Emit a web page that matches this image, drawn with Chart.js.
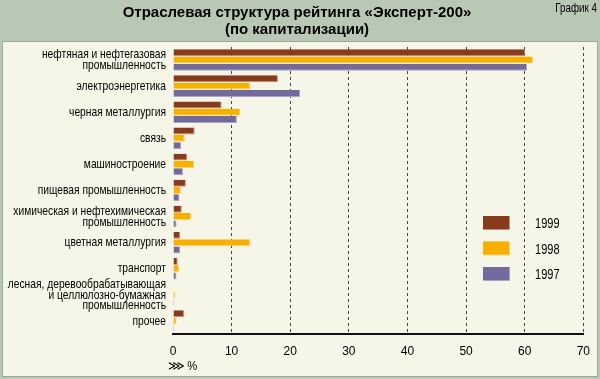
<!DOCTYPE html>
<html>
<head>
<meta charset="utf-8">
<script src="https://cdn.jsdelivr.net/npm/chart.js@4"></script>
<style>
html,body{margin:0;padding:0;background:#b8c8b4;}
#wrap{position:relative;width:600px;height:379px;}
canvas{display:block;}
</style>
</head>
<body>
<div id="wrap"><canvas id="c" width="600" height="379"></canvas></div>
<script>
const categories = [
  ["нефтяная и нефтегазовая", "промышленность"],
  "электроэнергетика",
  "черная металлургия",
  "связь",
  "машиностроение",
  "пищевая промышленность",
  ["химическая и нефтехимическая", "промышленность"],
  "цветная металлургия",
  "транспорт",
  ["лесная, деревообрабатывающая", "и целлюлозно-бумажная", "промышленность"],
  "прочее"
];
const seriesNames = ["1999", "1998", "1997"];
const values1999 = [60.1, 17.9, 8.3, 3.7, 2.4, 2.2, 1.5, 1.25, 0.8, 0.1, 1.9];
const values1998 = [61.4, 13.2, 11.5, 2.0, 3.6, 1.35, 3.1, 13.2, 1.05, 0.4, 0.6];
const values1997 = [60.4, 21.7, 10.9, 1.4, 1.7, 1.1, 0.6, 1.25, 0.6, 0.2, 0.2];
const xTicks = [0, 10, 20, 30, 40, 50, 60, 70];
const titleLines = ["Отраслевая структура рейтинга «Эксперт-200»", "(по капитализации)"];
const chartLabel = "График 4";
const unitLabel = "⋙ %";

const colors = ["#873a1c", "#f8b000", "#736a9c"];
const borders = ["#c9907a", "#fcd27a", "#aaa4c6"];
const FONT = "'Liberation Sans', Arial, sans-serif";

function condensed(ctx, text, x, y, align, sx, font) {
  ctx.save();
  ctx.translate(x, y);
  ctx.scale(sx, 1);
  ctx.font = font;
  ctx.textAlign = align;
  ctx.textBaseline = 'middle';
  ctx.fillStyle = '#000';
  ctx.fillText(text, 0, 0);
  ctx.restore();
}

const decor = {
  id: 'decor',
  beforeDraw(chart) {
    const ctx = chart.ctx;
    ctx.save();
    ctx.fillStyle = '#b8c8b4';
    ctx.fillRect(0, 0, 600, 379);
    ctx.fillStyle = '#9aab98';
    ctx.fillRect(2, 41, 596, 336);
    ctx.fillStyle = '#f5f6e7';
    ctx.fillRect(3, 42, 594, 334);
    ctx.restore();
  },
  afterDraw(chart) {
    const ctx = chart.ctx;
    const ys = chart.scales.y;
    ctx.save();
    ctx.fillStyle = '#000';
    ctx.textAlign = 'center';
    ctx.textBaseline = 'middle';
    ctx.font = "bold 15px " + FONT;
    ctx.fillText(titleLines[0], 297, 13);
    ctx.fillText(titleLines[1], 297, 30);
    ctx.restore();
    condensed(ctx, chartLabel, 597, 9, 'right', 0.82, "12px " + FONT);
    condensed(ctx, unitLabel, 168, 367, 'left', 0.9, "12.5px " + FONT);
    // category labels
    chart.data.labels.forEach((lab, i) => {
      const lines = Array.isArray(lab) ? lab : [lab];
      const y = ys.getPixelForTick(i);
      const lh = 10.8;
      const y0 = y - (lines.length - 1) * lh / 2;
      lines.forEach((t, k) => condensed(ctx, t, 166, y0 + k * lh, 'right', 0.76, "13.5px " + FONT));
    });
    // legend
    const legendY = [223, 248.5, 274];
    chart.data.datasets.forEach((ds, i) => {
      ctx.save();
      ctx.fillStyle = ds.borderColor;
      ctx.fillRect(483, legendY[i] - 7, 27, 14);
      ctx.fillStyle = ds.backgroundColor;
      ctx.fillRect(483, legendY[i] - 7, 26, 13);
      ctx.restore();
      condensed(ctx, ds.label, 535, legendY[i] + 1, 'left', 0.76, "14.5px " + FONT);
    });
  }
};

new Chart(document.getElementById('c'), {
  type: 'bar',
  data: {
    labels: categories,
    datasets: [
      { label: seriesNames[0], data: values1999, backgroundColor: colors[0], borderColor: borders[0] },
      { label: seriesNames[1], data: values1998, backgroundColor: colors[1], borderColor: borders[1] },
      { label: seriesNames[2], data: values1997, backgroundColor: colors[2], borderColor: borders[2] }
    ]
  },
  options: {
    indexAxis: 'y',
    responsive: false,
    animation: false,
    devicePixelRatio: 1,
    layout: { padding: { top: 47, right: 13, left: 0, bottom: 0 } },
    datasets: {
      bar: {
        categoryPercentage: 0.84,
        barPercentage: 0.95,
        borderWidth: { right: 1, bottom: 1, top: 0, left: 0 },
        borderSkipped: false
      }
    },
    plugins: {
      legend: { display: false },
      title: { display: false },
      tooltip: { enabled: false }
    },
    scales: {
      x: {
        type: 'linear',
        min: 0,
        max: 70,
        afterBuildTicks(scale) { scale.ticks = xTicks.map(v => ({ value: v })); },
        afterFit(scale) { scale.height = 45; },
        ticks: {
          color: '#000',
          padding: 10,
          font: { family: FONT, size: 12 }
        },
        grid: {
          drawTicks: false,
          color: (c) => (c.tick && c.tick.value === 0) ? 'rgba(0,0,0,0)' : '#444',
          lineWidth: 1
        },
        border: { display: true, color: '#111', width: 2, dash: [3, 3] }
      },
      y: {
        type: 'category',
        afterFit(scale) { scale.width = 173; },
        ticks: { display: false, autoSkip: false },
        grid: { display: false, drawTicks: false },
        border: { display: false }
      }
    }
  },
  plugins: [decor]
});
</script>
</body>
</html>
